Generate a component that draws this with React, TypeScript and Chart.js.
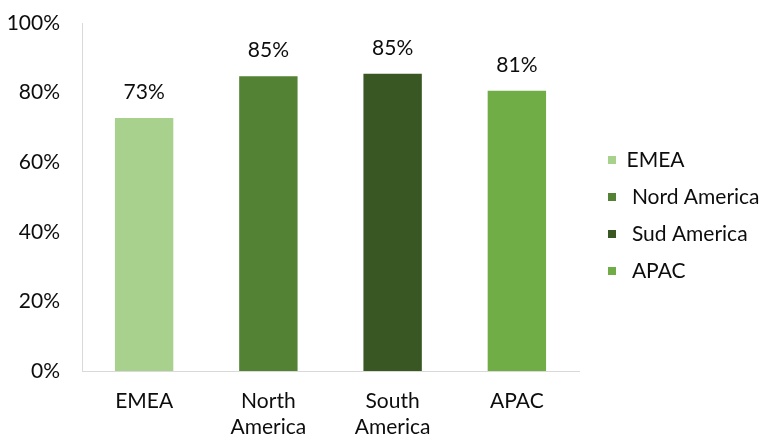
import React, { useEffect, useRef } from 'react';
import { Chart, registerables } from 'chart.js';

Chart.register(...registerables);

const categories: string[][] = [['EMEA'], ['North', 'America'], ['South', 'America'], ['APAC']];
const legendNames: string[] = ['EMEA', ' Nord America', ' Sud America', ' APAC'];
const values: number[] = [0.727, 0.847, 0.854, 0.805];
const barColors: string[] = ['#A9D18E', '#548235', '#385723', '#70AD47'];
const yMin = 0;
const yMax = 1;
const yStep = 0.2;

const FONT = 'Lato';
const TEXT = '#0D0D0D';

const pct = (v: number) => Math.round(v * 100) + '%';

const valueLabels = {
  id: 'valueLabels',
  afterDatasetsDraw(chart: any) {
    const ctx = chart.ctx;
    const meta = chart.getDatasetMeta(0);
    ctx.save();
    ctx.font = `21px ${FONT}`;
    ctx.fillStyle = TEXT;
    ctx.textAlign = 'center';
    ctx.textBaseline = 'middle';
    meta.data.forEach((bar: any, i: number) => {
      ctx.fillText(pct(values[i]), bar.x, bar.y - 26);
    });
    ctx.restore();
  },
};

const legendFit = {
  id: 'legendFit',
  afterInit(chart: any) {
    const lg = chart.legend;
    if (!lg) return;
    const orig = lg.fit;
    lg.fit = function () {
      orig.call(this);
      this.width = 187;
    };
  },
  afterLayout(chart: any) {
    const lg = chart.legend;
    if (!lg) return;
    lg.left += 13;
    lg.right += 13;
    lg.top -= 16.5;
    lg.bottom -= 16.5;
  },
};

export default function App() {
  const ref = useRef<HTMLCanvasElement | null>(null);

  useEffect(() => {
    if (!ref.current) return;
    const chart = new Chart(ref.current, {
      type: 'bar',
      data: {
        labels: categories,
        datasets: [
          {
            data: values,
            backgroundColor: barColors,
            borderWidth: 0,
            barPercentage: 0.47,
            categoryPercentage: 1,
          },
        ],
      },
      options: {
        animation: false,
        responsive: true,
        maintainAspectRatio: false,
        layout: { padding: { left: 7, top: 23, right: 0, bottom: 0 } },
        plugins: {
          tooltip: { enabled: false },
          legend: {
            position: 'right',
            align: 'center',
            labels: {
              boxWidth: 8,
              boxHeight: 8,
              padding: 16,
              color: TEXT,
              font: { family: FONT, size: 21 },
              generateLabels: () =>
                legendNames.map((name, i) => ({
                  text: name,
                  fillStyle: barColors[i],
                  strokeStyle: barColors[i],
                  lineWidth: 0,
                  hidden: false,
                  index: i,
                  fontColor: TEXT,
                })),
            },
          },
        },
        scales: {
          x: {
            grid: { display: false, drawTicks: false },
            border: { display: true, color: '#D9D9D9', width: 1 },
            ticks: {
              color: TEXT,
              font: { family: FONT, size: 21, lineHeight: 1.25 },
              padding: 17,
              maxRotation: 0,
            },
            afterFit: (s: any) => {
              s.height = 70;
            },
          },
          y: {
            min: yMin,
            max: yMax,
            grid: { display: false, drawTicks: false },
            border: { display: true, color: '#D9D9D9', width: 1 },
            ticks: {
              stepSize: yStep,
              color: TEXT,
              font: { family: FONT, size: 21 },
              padding: 22,
              callback: (v: any) => pct(Number(v)),
            },
            afterFit: (s: any) => {
              s.width = 75;
              s.paddingTop = 0;
              s.paddingBottom = 0;
            },
          },
        },
      },
      plugins: [valueLabels, legendFit],
    });
    return () => chart.destroy();
  }, []);

  return (
    <div style={{ position: 'fixed', left: 0, top: 0, width: 766, height: 441, background: '#fff' }}>
      <canvas ref={ref} />
    </div>
  );
}
